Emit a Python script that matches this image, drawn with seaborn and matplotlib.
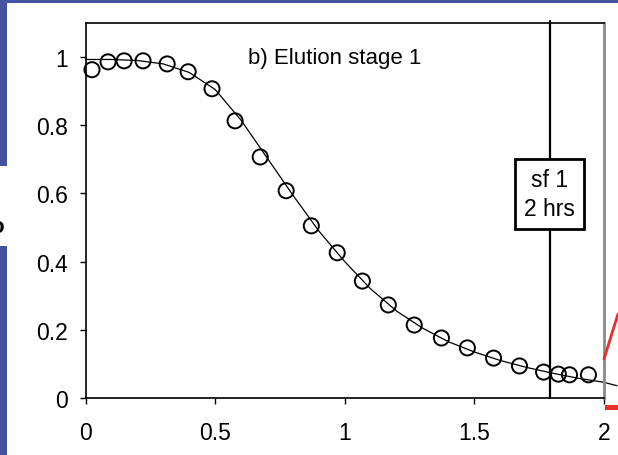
import matplotlib
matplotlib.use("Agg")
import matplotlib.pyplot as plt
import seaborn as sns
import pandas as pd
from matplotlib.lines import Line2D
from matplotlib.patches import Rectangle

# measured points (open circles)
time_h = [0.025, 0.087, 0.149, 0.222, 0.315, 0.396, 0.488, 0.577, 0.674, 0.774,
          0.871, 0.971, 1.068, 1.168, 1.268, 1.373, 1.473, 1.574, 1.674, 1.767,
          1.824, 1.867, 1.94]
conc = [0.963, 0.986, 0.989, 0.989, 0.980, 0.957, 0.907, 0.813, 0.707, 0.608,
        0.505, 0.426, 0.343, 0.273, 0.214, 0.176, 0.147, 0.117, 0.094, 0.076,
        0.070, 0.068, 0.068]

# model curve
model_x = [0, 0.1, 0.2, 0.3, 0.4, 0.5, 0.6, 0.7, 0.8, 0.9, 1.0, 1.1, 1.2, 1.3,
           1.4, 1.5, 1.6, 1.7, 1.8, 1.9, 2.0, 2.05]
model_y = [0.993, 0.993, 0.99, 0.98, 0.955, 0.905, 0.815, 0.705, 0.595, 0.49,
           0.40, 0.32, 0.255, 0.205, 0.165, 0.135, 0.11, 0.09, 0.073, 0.058,
           0.046, 0.036]

switch_x = 1.79
xticks = [0, 0.5, 1, 1.5, 2]
xticklabels = ["0", "0.5", "1", "1.5", "2"]
yticks = [0, 0.2, 0.4, 0.6, 0.8, 1]
yticklabels = ["0", "0.2", "0.4", "0.6", "0.8", "1"]

sns.set_style("ticks")
plt.rcParams["font.family"] = ["Liberation Sans", "DejaVu Sans"]
plt.rcParams["text.color"] = "black"

W, H = 618, 456
fig = plt.figure(figsize=(W / 100, H / 100), dpi=100)
ax = fig.add_axes([85.5 / W, 1 - 399 / H, (604 - 85.5) / W, (399 - 24) / H])

pts = pd.DataFrame({"t": time_h, "c": conc})
curve = pd.DataFrame({"t": model_x, "c": model_y})

sns.lineplot(data=curve, x="t", y="c", ax=ax, color="black", linewidth=0.9,
             clip_on=False, zorder=2)
sns.scatterplot(data=pts, x="t", y="c", ax=ax, marker="o", s=118,
                facecolor="none", edgecolor="black", linewidth=1.4, zorder=3,
                clip_on=False)

ax.axvline(switch_x, ymin=0, ymax=1.006, color="black", linewidth=1.6,
           clip_on=False, zorder=4)
ax.text(switch_x, 0.599, "sf 1\n2 hrs", ha="center", va="center", fontsize=16.5,
        linespacing=1.35, zorder=5, color="black",
        bbox=dict(boxstyle="square,pad=0.38", facecolor="white",
                  edgecolor="black", linewidth=2))
ax.text(0.96, 1.0, "b) Elution stage 1", ha="center", va="center", fontsize=16,
        color="black")

ax.set_xlim(0, 2)
ax.set_ylim(0, 1.1)
ax.set_xticks(xticks)
ax.set_xticklabels(xticklabels)
ax.set_yticks(yticks)
ax.set_yticklabels(yticklabels)
ax.set_xlabel("")
ax.set_ylabel("")
ax.tick_params(axis="x", direction="out", length=4.5, width=1, pad=12,
               labelsize=16.5, colors="black")
ax.tick_params(axis="y", direction="out", length=4.5, width=1, pad=8,
               labelsize=16.5, colors="black")
for side in ["left", "bottom", "top"]:
    ax.spines[side].set_visible(True)
    ax.spines[side].set_color("black")
    ax.spines[side].set_linewidth(1.2)
ax.spines["right"].set_visible(True)
ax.spines["right"].set_color("#8a8a8a")
ax.spines["right"].set_linewidth(2)

# slide decorations around the chart
blue = "#4651a0"
fig.add_artist(Rectangle((0, 1 - 4 / H), 1, 4 / H, transform=fig.transFigure,
                         color=blue, lw=0))
fig.add_artist(Rectangle((0, 1 - 167 / H), 7 / W, 167 / H,
                         transform=fig.transFigure, color=blue, lw=0))
fig.add_artist(Rectangle((0, 0), 7 / W, (H - 247) / H,
                         transform=fig.transFigure, color=blue, lw=0))
fig.text(-3 / W, 1 - 228 / H, "o", ha="center", va="center", fontsize=16,
         fontweight="bold", color="black")
fig.add_artist(Line2D([604 / W, 1], [1 - 360 / H, 1 - 315 / H],
                      transform=fig.transFigure, color="#e8302a", lw=2))
fig.add_artist(Rectangle((605 / W, 1 - 411 / H), 13 / W, 5 / H,
                         transform=fig.transFigure, color="#e8302a", lw=0))

fig.savefig("out.png", dpi=100)
